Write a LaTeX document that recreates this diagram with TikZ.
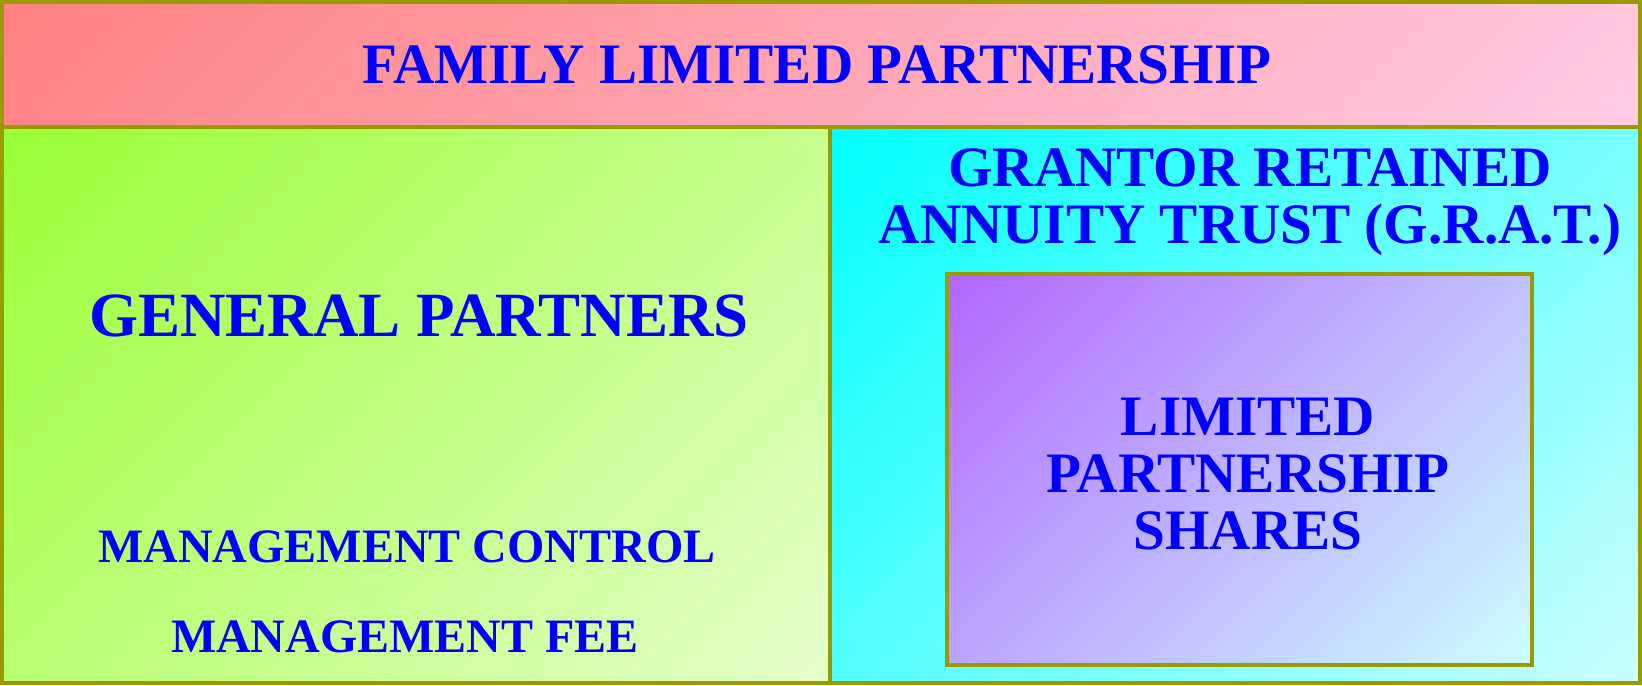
\documentclass[tikz,border=0pt]{standalone}
\usepackage{fontspec}
\setmainfont{Liberation Serif}
\usepackage{tikz}

\definecolor{rim}{HTML}{999900}
\definecolor{ink}{HTML}{0000FF}
\definecolor{roseA}{HTML}{FF8080}
\definecolor{roseB}{HTML}{FFCCE6}
\definecolor{limeA}{HTML}{99FF33}
\definecolor{limeB}{HTML}{E6FFCC}
\definecolor{aquaA}{HTML}{00FFFF}
\definecolor{aquaB}{HTML}{CCFFFF}
\definecolor{lilacA}{HTML}{B266FF}

\tikzset{
  rim line/.style={draw=rim, line width=2.3pt},
  label/.style={text=ink, font=\bfseries\fontsize{28.6}{28.6}\selectfont, align=center, inner sep=0pt}
}

% box with a 45 degree fade from its top left to its bottom right corner
\newcommand{\panelbox}[6]{%
  \pgfmathsetmacro{\pcx}{(#1+#3)/2}
  \pgfmathsetmacro{\pcy}{(#2+#4)/2}
  \pgfmathsetmacro{\phalf}{0.355*((#3-#1)+(#4-#2))}
  \begin{scope}
    \clip (#1,#2) rectangle (#3,#4);
    \begin{scope}[transform canvas={rotate around={45:(\pcx,\pcy)}}]
      \shade[top color=#5, bottom color=#6]
        (\pcx-\phalf,\pcy-\phalf) rectangle (\pcx+\phalf,\pcy+\phalf);
    \end{scope}
  \end{scope}
  \draw[rim line] (#1,#2) rectangle (#3,#4);}

\begin{document}
\begin{tikzpicture}[x=0.5pt,y=-0.5pt]
        \useasboundingbox (0,0) rectangle (1642,685);
        % the four shaded boxes
        \panelbox{2}{2}{1640}{127}{roseA}{roseB}
        \panelbox{2}{127}{830}{683}{limeA}{limeB}
        \panelbox{830}{127}{1640}{683}{aquaA}{aquaB}
        \panelbox{947}{274}{1532}{665}{lilacA}{aquaB}
        % texts
        \node[label] (flp) at (817,65) {FAMILY LIMITED PARTNERSHIP};
        \node[label, font=\bfseries\fontsize{31.5}{32}\selectfont] (gp) at (419,316) {GENERAL PARTNERS};
        \node[label, font=\bfseries\fontsize{24}{25}\selectfont] (ctrl) at (407,547) {MANAGEMENT CONTROL};
        \node[label, font=\bfseries\fontsize{24}{25}\selectfont] (fee) at (405,637) {MANAGEMENT FEE};
        \node[label] (grat) at (1250,202) {GRANTOR RETAINED\\ANNUITY TRUST (G.R.A.T.)};
        \node[label] (shares) at (1248,474) {LIMITED\\PARTNERSHIP\\SHARES};
      \end{tikzpicture}
\end{document}
